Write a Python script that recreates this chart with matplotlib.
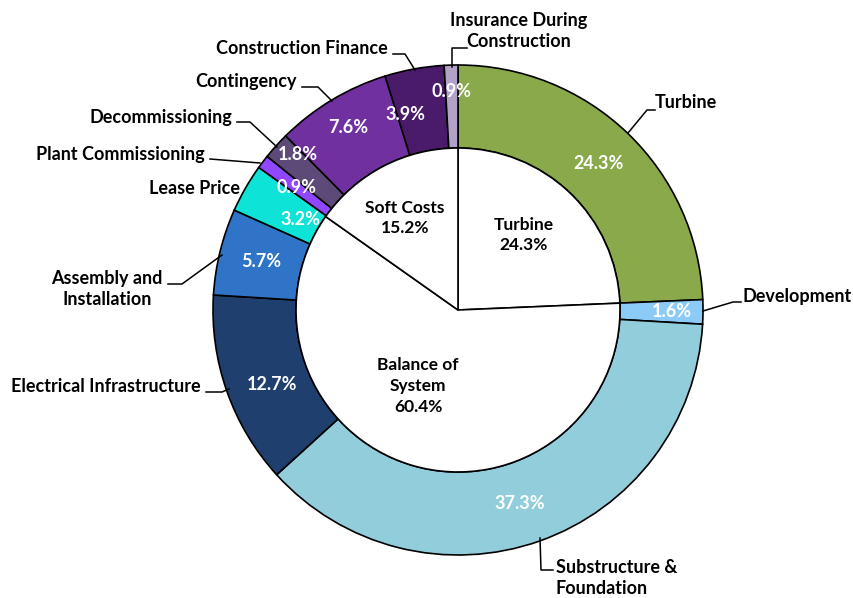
import numpy as np
import matplotlib
matplotlib.use("Agg")
import matplotlib.pyplot as plt

plt.rcParams['font.family'] = ['Lato', 'DejaVu Sans']
plt.rcParams['font.weight'] = 'bold'

# outer ring (clockwise from 12 o'clock)
categories = ["Turbine", "Development", "Substructure &\nFoundation",
              "Electrical Infrastructure", "Assembly and\nInstallation",
              "Lease Price", "Plant Commissioning", "Decommissioning",
              "Contingency", "Construction Finance",
              "Insurance During\nConstruction"]
shares = [24.3, 1.6, 37.3, 12.7, 5.7, 3.2, 0.9, 1.8, 7.6, 3.9, 0.9]
colors = ["#89A94A", "#8CCBF8", "#92CDDC", "#1F3F6E", "#2F74C6", "#0EE3D8",
          "#9146FF", "#5D4A78", "#7030A0", "#4A1B6A", "#B3A2C7"]

# inner pie
groups = ["Turbine", "Balance of\nSystem", "Soft Costs"]
group_shares = [24.3, 60.4, 15.2]

W, H = 854, 598
cx, cy = 458, H - 310
R_OUT, R_IN = 245, 162


def px(x, y):
    # image pixel -> data coords (y up)
    return x, H - y


fig = plt.figure(figsize=(W / 100, H / 100), dpi=100)
ax = fig.add_axes([0, 0, 1, 1])

wedges, _ = ax.pie(shares, radius=R_OUT, center=(cx, cy), colors=colors,
                   startangle=90, counterclock=False,
                   wedgeprops=dict(width=R_OUT - R_IN, edgecolor="black", linewidth=1.2))
ax.pie(group_shares, radius=R_IN, center=(cx, cy), colors=["white"] * 3,
       startangle=90, counterclock=False,
       wedgeprops=dict(edgecolor="black", linewidth=1.2))

ax.set_xlim(0, W)
ax.set_ylim(0, H)
ax.set_aspect("equal")
ax.axis("off")

# percentage labels: radius for each, plus a small angle nudge (deg, ccw)
pct_r = [203, 214, 203, 200, 203, 181, 203, 223, 213, 202, 219]
pct_da = [0, 0, -1.8, 2.6, 0, 0, 0, -2, 0, 4.7, 0]
for w, val, r, da in zip(wedges, shares, pct_r, pct_da):
    ang = np.deg2rad((w.theta1 + w.theta2) / 2 + da)
    ax.text(cx + r * np.cos(ang), cy + r * np.sin(ang), f"{val}%",
            ha="center", va="center", color="white", fontsize=13, fontweight="bold")

# inner labels
inner_pos = [(524, 235), (418, 386), (405, 218)]
for name, val, (x, y) in zip(groups, group_shares, inner_pos):
    ax.text(*px(x, y), f"{name}\n{val}%", ha="center", va="center",
            fontsize=12.5, fontweight="bold", linespacing=1.38)

# category labels and leader lines (pixel coords)
label_pos = [(655, 103, "left"), (743, 297, "left"), (556, 578, "left"),
             (201, 387, "right"), (107, 289, "center"), (240, 189, "right"),
             (205, 155, "right"), (232, 118, "right"), (297, 81, "right"),
             (388, 48, "right"), (519, 31, "center")]
leaders = [
    [(628, 133), (647, 110), (655, 110)],
    [(703, 311), (733, 302), (741, 302)],
    [(540, 538), (541, 570), (553, 570)],
    [(229, 389), (222, 392), (206, 392)],
    [(222, 255), (182, 284), (168, 284)],
    None,
    [(260, 163), (210, 159)],
    [(277, 147), (250, 122), (237, 122)],
    [(332, 101), (318, 87), (302, 87)],
    [(415, 70), (405, 54), (393, 54)],
    [(452, 67), (452, 48), (467, 48)],
]
for name, (x, y, ha), pts in zip(categories, label_pos, leaders):
    ax.text(*px(x, y), name, ha=ha, va="center", fontsize=13,
            fontweight="bold", linespacing=1.33)
    if pts:
        xs = [p[0] for p in pts]
        ys = [H - p[1] for p in pts]
        ax.plot(xs, ys, color="black", linewidth=1.1)

fig.savefig("out.png", dpi=100, facecolor="white")
